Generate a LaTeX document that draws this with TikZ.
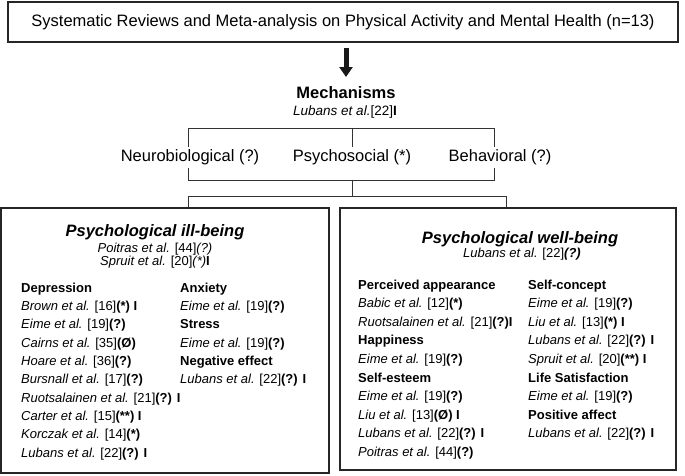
\documentclass[tikz,border=0pt]{standalone}
\usepackage{fontspec}
\setmainfont{Liberation Sans}
\usetikzlibrary{arrows.meta}
\newcommand{\ea}[2]{\textit{#1 et al.} [#2]}
\newcommand{\bq}{\textbf{(?)}}
\newcommand{\mk}{\textbf{I}}
\begin{document}
\begin{tikzpicture}[x=1pt,y=-1pt,
  box/.style={draw=black!85, line width=1.1pt},
  conn/.style={draw=black!80, line width=0.9pt},
  bigf/.style={font=\fontsize{16.5}{20}\selectfont},
  item/.style={font=\fontsize{13}{16}\selectfont, anchor=base west, inner sep=0pt},
  sub/.style={font=\fontsize{13}{16}\selectfont, anchor=base, inner sep=0pt},
  ttl/.style={font=\fontsize{16.5}{20}\selectfont\bfseries\itshape, anchor=base, inner sep=0pt},
  lab/.style={bigf, fill=white, inner sep=2.5pt},
  bigarrow/.style={line width=5pt, black!90, -{Triangle[width=13pt,length=10pt]}}]
\useasboundingbox (0,0) rectangle (685,476);
% top
\node[box, bigf, minimum width=670pt, minimum height=40pt] (top) at (343,22) {Systematic Reviews and Meta-analysis on Physical Activity and Mental Health (n=13)};
\node[font=\fontsize{16.5}{20}\selectfont\bfseries, anchor=base] (mech) at (346,98.5) {Mechanisms};
\node[font=\fontsize{13.5}{16}\selectfont, anchor=base, inner sep=0pt] (mref) at (345,116) {\textit{Lubans et al.}[22]\mk};
\draw[bigarrow, shorten <=5pt, shorten >=6pt] (top.south -| mech.north) -- (mech.north);
% bracket
\coordinate (btl) at (188,128);
\coordinate (bbr) at (494,180);
\draw[conn] (btl) rectangle (bbr);
\node[lab] (neuro) at (190,157.5) {Neurobiological (?)};
\node[lab] (psycho) at (352,157.5) {Psychosocial (*)};
\node[lab] (behav) at (500,157.5) {Behavioral (?)};
\draw[conn] (btl -| psycho) -- (psycho.north);
\coordinate (jn) at (352,196);
\coordinate (jl) at (188,196);
\coordinate (jr) at (506,196);
\draw[conn] (bbr -| psycho) -- (jn);
\draw[conn] (jl) -- (jr);
% boxes
\node[box, minimum width=328pt, minimum height=265pt] (ill) at (165,340.5) {};
\node[box, minimum width=336pt, minimum height=262pt] (well) at (508,339) {};
\draw[conn] (jl) -- (jl |- ill.north);
\draw[conn] (jr) -- (jr |- well.north);
% left box
\node[ttl] (illt) at (155,236) {Psychological ill-being};
\node[sub] (ill1) at (155,252.7) {\ea{Poitras}{44}\textit{(?)}};
\node[sub] (ill2) at (155,265.5) {\ea{Spruit}{20}\textit{(*)}\mk};
\foreach \t [count=\k from 0] in {{\textbf{Depression}},{\ea{Brown}{16}\textbf{(*)} \mk},{\ea{Eime}{19}\bq},{\ea{Cairns}{35}\textbf{(Ø)}},{\ea{Hoare}{36}\bq},{\ea{Bursnall}{17}\bq},{\ea{Ruotsalainen}{21}\bq{} \mk},{\ea{Carter}{15}\textbf{(**)} \mk},{\ea{Korczak}{14}\textbf{(*)}},{\ea{Lubans}{22}\bq{} \mk}}
  \node[item] (la\k) at (21,292.4+18.29*\k) {\t};
\foreach \t [count=\k from 0] in {{\textbf{Anxiety}},{\ea{Eime}{19}\bq},{\textbf{Stress}},{\ea{Eime}{19}\bq},{\textbf{Negative effect}},{\ea{Lubans}{22}\bq{} \mk}}
  \node[item] (lb\k) at (180,292.4+18.29*\k) {\t};
% right box
\node[ttl] (wellt) at (520,243) {Psychological well-being};
\node[sub] (well1) at (522,257.7) {\ea{Lubans}{22}\textbf{\textit{(?)}}};
\foreach \t [count=\k from 0] in {{\textbf{Perceived appearance}},{\ea{Babic}{12}\textbf{(*)}},{\ea{Ruotsalainen}{21}\bq\mk},{\textbf{Happiness}},{\ea{Eime}{19}\bq},{\textbf{Self-esteem}},{\ea{Eime}{19}\bq},{\ea{Liu}{13}\textbf{(Ø)} \mk},{\ea{Lubans}{22}\bq{} \mk},{\ea{Poitras}{44}\bq}}
  \node[item] (ra\k) at (358,289+18.6*\k) {\t};
\foreach \t [count=\k from 0] in {{\textbf{Self-concept}},{\ea{Eime}{19}\bq},{\ea{Liu}{13}\textbf{(*)} \mk},{\ea{Lubans}{22}\bq{} \mk},{\ea{Spruit}{20}\textbf{(**)} \mk},{\textbf{Life Satisfaction}},{\ea{Eime}{19}\bq},{\textbf{Positive affect}},{\ea{Lubans}{22}\bq{} \mk}}
  \node[item] (rb\k) at (528,289+18.6*\k) {\t};
\end{tikzpicture}
\end{document}
